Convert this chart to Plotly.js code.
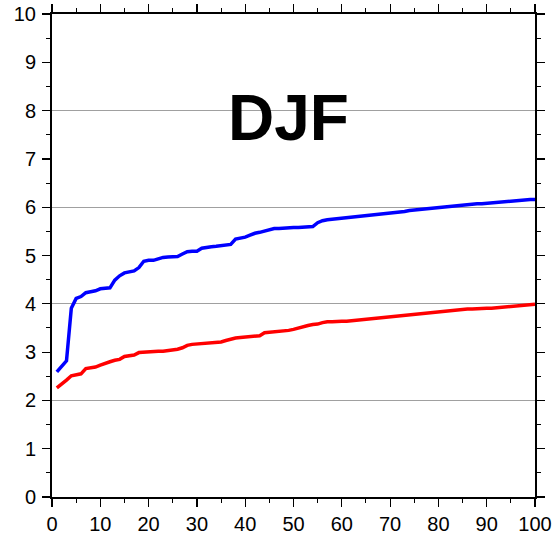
<!DOCTYPE html>
<html>
<head>
<meta charset="utf-8">
<script src="https://cdn.plot.ly/plotly-3.0.1.min.js"></script>
<style>html,body{margin:0;padding:0;background:#fff;}#chart{width:555px;height:534px;}</style>
</head>
<body>
<div id="chart"></div>
<script>
const rank = Array.from({length: 100}, (_, i) => i + 1);
const blueValues = [2.59,2.70,2.82,3.91,4.11,4.15,4.23,4.25,4.27,4.31,
4.32,4.33,4.49,4.58,4.64,4.66,4.68,4.75,4.88,4.90,
4.90,4.93,4.96,4.97,4.97,4.98,5.03,5.08,5.09,5.09,
5.15,5.17,5.18,5.19,5.20,5.21,5.23,5.34,5.36,5.38,
5.42,5.46,5.48,5.51,5.54,5.56,5.56,5.57,5.57,5.58,
5.58,5.59,5.59,5.60,5.68,5.72,5.74,5.75,5.76,5.77,
5.79,5.80,5.81,5.82,5.83,5.84,5.85,5.85,5.86,5.88,
5.89,5.90,5.91,5.93,5.94,5.95,5.96,5.97,5.98,5.99,
6.00,6.01,6.03,6.04,6.04,6.05,6.06,6.07,6.07,6.08,
6.08,6.09,6.10,6.12,6.13,6.14,6.14,6.15,6.16,6.16];
const redValues = [2.26,2.33,2.42,2.51,2.53,2.55,2.66,2.68,2.69,2.73,
2.77,2.80,2.83,2.85,2.91,2.93,2.94,2.99,3.00,3.01,
3.01,3.02,3.02,3.03,3.04,3.06,3.09,3.14,3.16,3.17,
3.18,3.18,3.19,3.20,3.21,3.24,3.27,3.29,3.30,3.31,
3.32,3.33,3.34,3.40,3.41,3.42,3.42,3.43,3.45,3.47,
3.50,3.53,3.55,3.57,3.58,3.61,3.63,3.63,3.64,3.64,
3.64,3.65,3.66,3.67,3.68,3.70,3.71,3.72,3.73,3.74,
3.75,3.76,3.76,3.77,3.78,3.79,3.80,3.82,3.83,3.84,
3.85,3.86,3.87,3.88,3.88,3.89,3.89,3.90,3.90,3.91,
3.91,3.92,3.92,3.93,3.94,3.95,3.96,3.97,3.98,3.99];
const titleText = "DJF";

const font = "Liberation Sans, Arial, Helvetica, sans-serif";
const traces = [
  {x: rank, y: blueValues, type: 'scatter', mode: 'lines', line: {color: '#0000ff', width: 3.5}, showlegend: false, hoverinfo: 'skip'},
  {x: rank, y: redValues, type: 'scatter', mode: 'lines', line: {color: '#ff0000', width: 3.5}, showlegend: false, hoverinfo: 'skip'}
];
const layout = {
  width: 555, height: 534,
  margin: {l: 52, r: 20, t: 14, b: 37, pad: 0},
  paper_bgcolor: '#fff', plot_bgcolor: 'rgba(0,0,0,0)',
  font: {family: font, size: 20, color: '#000'},
  xaxis: {
    range: [0, 100], dtick: 10, tick0: 0, ticks: 'outside', ticklen: 8, tickwidth: 1.2, tickcolor: '#000',
    showline: true, linewidth: 2, linecolor: '#000', mirror: 'ticks', showgrid: false, zeroline: false,
    minor: {dtick: 5, ticks: 'outside', ticklen: 4, tickwidth: 1, tickcolor: '#000', showgrid: false},
    tickfont: {family: font, size: 20}, fixedrange: true
  },
  yaxis: {
    range: [0, 10], dtick: 1, tick0: 0, ticks: 'outside', ticklen: 8, tickwidth: 1.2, tickcolor: '#000',
    showline: true, linewidth: 2, linecolor: '#000', mirror: 'ticks', showgrid: false, zeroline: false,
    minor: {dtick: 0.5, ticks: 'outside', ticklen: 4, tickwidth: 1, tickcolor: '#000', showgrid: false},
    tickfont: {family: font, size: 20}, ticklabelstandoff: 2, fixedrange: true
  },
  yaxis2: {
    overlaying: 'y', range: [0, 10], dtick: 2, tick0: 0, showgrid: true, gridcolor: '#a0a0a0', gridwidth: 1,
    showticklabels: false, ticks: '', showline: false, zeroline: false, fixedrange: true
  },
  annotations: [{
    text: '<b>' + titleText + '</b>', xref: 'paper', yref: 'paper', x: 0.49, y: 0.785,
    xanchor: 'center', yanchor: 'middle', showarrow: false,
    font: {family: font, size: 64, color: '#000'}
  }]
};
traces.push({x: [0], y: [0], yaxis: 'y2', type: 'scatter', mode: 'markers', marker: {opacity: 0}, showlegend: false, hoverinfo: 'skip'});
Plotly.newPlot('chart', traces, layout, {displayModeBar: false, staticPlot: true});
</script>
</body>
</html>
